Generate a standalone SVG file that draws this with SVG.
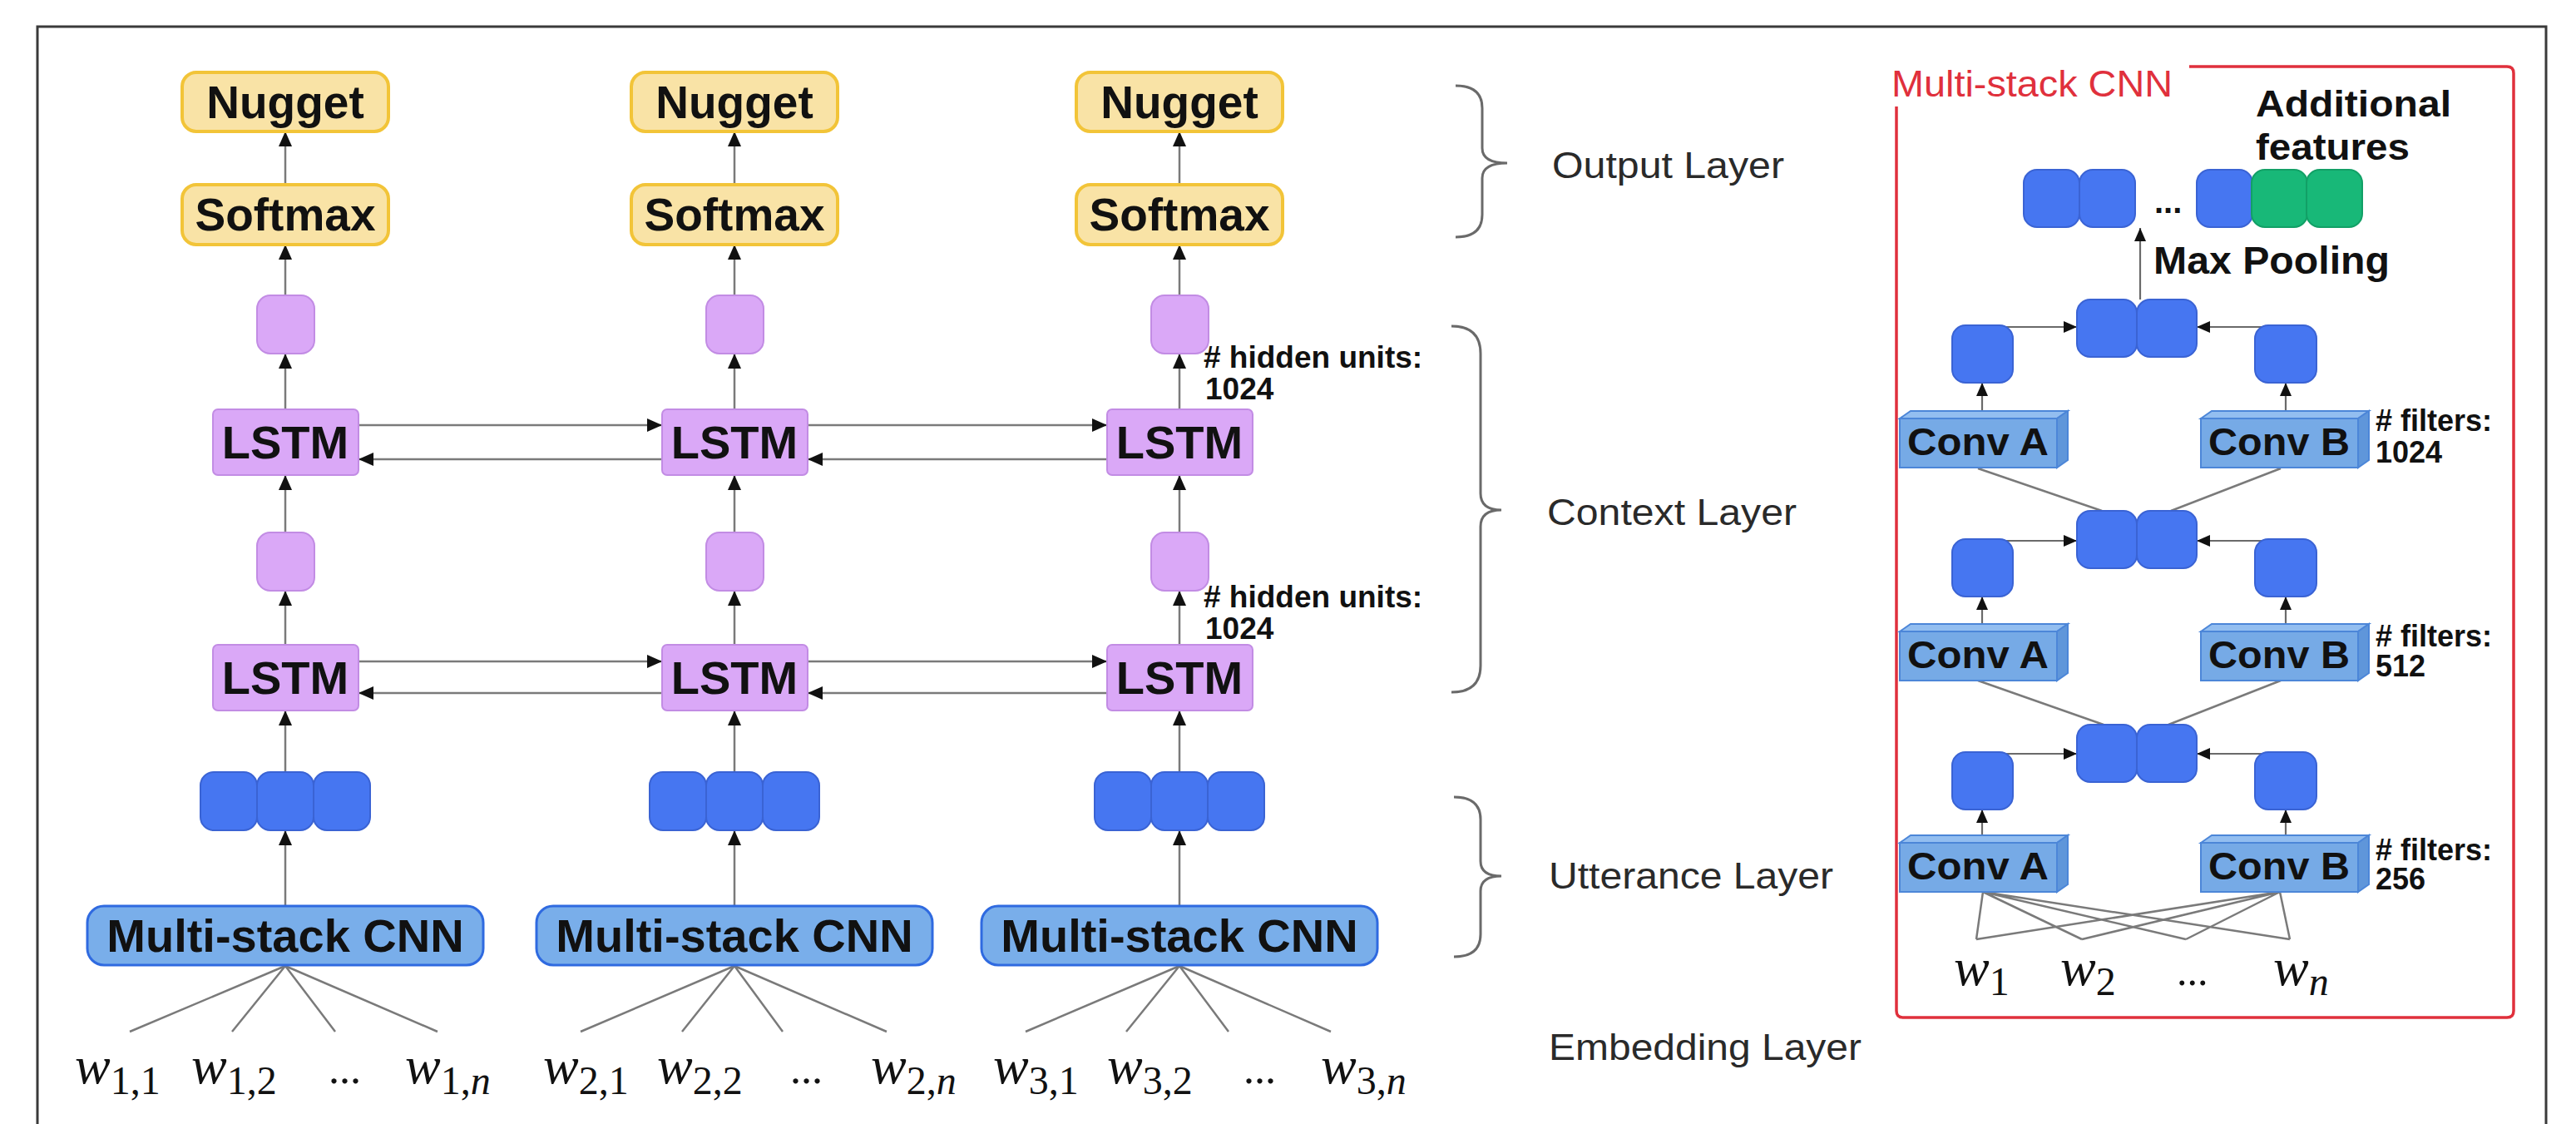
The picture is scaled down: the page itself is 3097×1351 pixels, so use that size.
<svg xmlns="http://www.w3.org/2000/svg" width="3097" height="1351" viewBox="0 0 3097 1351">
<style>
.frame{fill:none;stroke:#3a3a3a;stroke-width:3}
.yel{fill:#F9E3A6;stroke:#F2C438;stroke-width:4}
.pur{fill:#DAA8F7;stroke:#C28CE4;stroke-width:2}
.blu{fill:#4676F1;stroke:#3A63D4;stroke-width:2}
.grn{fill:#18B878;stroke:#12A066;stroke-width:2}
.cnn{fill:#79AEEA;stroke:#2F6AE0;stroke-width:3}
.cf{fill:#76AAE6;stroke:#4C86D8;stroke-width:2}
.ct{fill:#93BEF0;stroke:#4C86D8;stroke-width:2}
.cs{fill:#5F96DA;stroke:#4C86D8;stroke-width:2}
.ln{fill:none;stroke:#7a7a7a;stroke-width:2.5}
.arr{fill:none;stroke:#7a7a7a;stroke-width:2.5;marker-end:url(#ah)}
.arrs{fill:none;stroke:#6a6a6a;stroke-width:2.2;marker-end:url(#ahs)}
.brace{fill:none;stroke:#6a6a6a;stroke-width:3}
.b{font-family:"Liberation Sans",Arial,sans-serif;font-weight:bold;fill:#111}
.lbl{font-family:"Liberation Sans",Arial,sans-serif;fill:#2a2a2a;font-size:44px}
.red{font-family:"Liberation Sans",Arial,sans-serif;fill:#E0303C;font-size:44px}
.w{font-family:"Liberation Serif","Times New Roman",serif;fill:#111}
.wi{font-style:italic;font-size:64px}
.sub{font-size:48px}
.wi2{font-style:italic;font-size:64px}
.sub2{font-size:48px}
</style>
<defs>
<marker id="ah" viewBox="0 0 18 16" refX="18" refY="8" markerWidth="18" markerHeight="16" markerUnits="userSpaceOnUse" orient="auto"><path d="M0,0 L18,8 L0,16 z" fill="#111"/></marker>
<marker id="ahs" viewBox="0 0 16 14" refX="16" refY="7" markerWidth="16" markerHeight="14" markerUnits="userSpaceOnUse" orient="auto"><path d="M0,0 L16,7 L0,14 z" fill="#111"/></marker>
</defs>
<rect width="3097" height="1351" fill="#ffffff"/>
<path class="frame" d="M45 1351 L45 32 L3061 32 L3061 1351"/>

<g id="connectors">
  <!-- column 1 -->
  <line class="arr" x1="343" y1="222" x2="343" y2="158"/>
  <line class="arr" x1="343" y1="355" x2="343" y2="294"/>
  <line class="arr" x1="343" y1="492" x2="343" y2="425"/>
  <line class="arr" x1="343" y1="640" x2="343" y2="571"/>
  <line class="arr" x1="343" y1="775" x2="343" y2="710"/>
  <line class="arr" x1="343" y1="928" x2="343" y2="854"/>
  <line class="arr" x1="343" y1="1089" x2="343" y2="998"/>
  <!-- column 2 -->
  <line class="arr" x1="883" y1="222" x2="883" y2="158"/>
  <line class="arr" x1="883" y1="355" x2="883" y2="294"/>
  <line class="arr" x1="883" y1="492" x2="883" y2="425"/>
  <line class="arr" x1="883" y1="640" x2="883" y2="571"/>
  <line class="arr" x1="883" y1="775" x2="883" y2="710"/>
  <line class="arr" x1="883" y1="928" x2="883" y2="854"/>
  <line class="arr" x1="883" y1="1089" x2="883" y2="998"/>
  <!-- column 3 -->
  <line class="arr" x1="1418" y1="222" x2="1418" y2="158"/>
  <line class="arr" x1="1418" y1="355" x2="1418" y2="294"/>
  <line class="arr" x1="1418" y1="492" x2="1418" y2="425"/>
  <line class="arr" x1="1418" y1="640" x2="1418" y2="571"/>
  <line class="arr" x1="1418" y1="775" x2="1418" y2="710"/>
  <line class="arr" x1="1418" y1="928" x2="1418" y2="854"/>
  <line class="arr" x1="1418" y1="1089" x2="1418" y2="998"/>
  <!-- LSTM recurrent arrows -->
  <line class="arr" x1="431" y1="511" x2="796" y2="511"/>
  <line class="arr" x1="796" y1="552" x2="431" y2="552"/>
  <line class="arr" x1="971" y1="511" x2="1331" y2="511"/>
  <line class="arr" x1="1331" y1="552" x2="971" y2="552"/>
  <line class="arr" x1="431" y1="795" x2="796" y2="795"/>
  <line class="arr" x1="796" y1="833" x2="431" y2="833"/>
  <line class="arr" x1="971" y1="795" x2="1331" y2="795"/>
  <line class="arr" x1="1331" y1="833" x2="971" y2="833"/>
  <!-- embedding fans -->
  <path class="ln" d="M343 1161 L156 1240 M343 1161 L279 1240 M343 1161 L403 1240 M343 1161 L526 1240"/>
  <path class="ln" d="M883 1161 L698 1240 M883 1161 L820 1240 M883 1161 L941 1240 M883 1161 L1066 1240"/>
  <path class="ln" d="M1418 1161 L1233 1240 M1418 1161 L1354 1240 M1418 1161 L1477 1240 M1418 1161 L1600 1240"/>
  <!-- multi-stack CNN panel -->
  <line class="arrs" x1="2573" y1="360" x2="2573" y2="274"/>
  <line class="arrs" x1="2383" y1="393" x2="2497" y2="393"/>
  <line class="arrs" x1="2748" y1="393" x2="2641" y2="393"/>
  <line class="arrs" x1="2383" y1="650" x2="2497" y2="650"/>
  <line class="arrs" x1="2748" y1="650" x2="2641" y2="650"/>
  <line class="arrs" x1="2383" y1="906" x2="2497" y2="906"/>
  <line class="arrs" x1="2748" y1="906" x2="2641" y2="906"/>
  <line class="arrs" x1="2383" y1="494" x2="2383" y2="460"/>
  <line class="arrs" x1="2748" y1="494" x2="2748" y2="460"/>
  <line class="arrs" x1="2383" y1="750" x2="2383" y2="717"/>
  <line class="arrs" x1="2748" y1="750" x2="2748" y2="717"/>
  <line class="arrs" x1="2383" y1="1004" x2="2383" y2="973"/>
  <line class="arrs" x1="2748" y1="1004" x2="2748" y2="973"/>
  <path class="ln" d="M2378 563 L2527 614 M2742 563 L2610 614 M2378 818 L2529 871 M2742 818 L2607 871"/>
  <path class="ln" d="M2384 1072 L2376 1129 M2384 1072 L2503 1129 M2384 1072 L2628 1129 M2384 1072 L2753 1129 M2741 1072 L2376 1129 M2741 1072 L2503 1129 M2741 1072 L2628 1129 M2741 1072 L2753 1129"/>
</g>

<g id="braces">
  <path class="brace" d="M1750 103 Q1782 103 1782 130 L1782 178 Q1782 196 1812 196 Q1782 196 1782 214 L1782 258 Q1782 285 1750 285"/>
  <path class="brace" d="M1745 392 Q1780 392 1780 425 L1780 593 Q1780 613 1805 613 Q1780 613 1780 633 L1780 800 Q1780 832 1745 832"/>
  <path class="brace" d="M1748 958 Q1780 958 1780 985 L1780 1035 Q1780 1053 1805 1053 Q1780 1053 1780 1071 L1780 1123 Q1780 1150 1748 1150"/>
</g>

<g id="col1">
  <g id="nugget1"><rect class="yel" x="219" y="87" width="248" height="71" rx="17"/><text class="b" x="343" y="142" font-size="55" text-anchor="middle">Nugget</text></g>
  <g id="softmax1"><rect class="yel" x="219" y="222" width="248" height="72" rx="17"/><text class="b" x="343" y="277" font-size="55" text-anchor="middle">Softmax</text></g>
  <g id="h1a"><rect class="pur" x="309" y="355" width="69" height="70" rx="16"/></g>
  <g id="lstm1a"><rect class="pur" x="256" y="492" width="175" height="79" rx="6"/><text class="b" x="343" y="551" font-size="56" text-anchor="middle">LSTM</text></g>
  <g id="h1b"><rect class="pur" x="309" y="640" width="69" height="70" rx="16"/></g>
  <g id="lstm1b"><rect class="pur" x="256" y="775" width="175" height="79" rx="6"/><text class="b" x="343" y="834" font-size="56" text-anchor="middle">LSTM</text></g>
  <g id="u1"><rect class="blu" x="241" y="928" width="68" height="70" rx="16"/><rect class="blu" x="309" y="928" width="68" height="70" rx="16"/><rect class="blu" x="377" y="928" width="68" height="70" rx="16"/></g>
  <g id="cnn1"><rect class="cnn" x="105" y="1089" width="476" height="71" rx="20"/><text class="b" x="343" y="1144" font-size="56" text-anchor="middle">Multi-stack CNN</text></g>
</g>

<g id="col2">
  <g id="nugget2"><rect class="yel" x="759" y="87" width="248" height="71" rx="17"/><text class="b" x="883" y="142" font-size="55" text-anchor="middle">Nugget</text></g>
  <g id="softmax2"><rect class="yel" x="759" y="222" width="248" height="72" rx="17"/><text class="b" x="883" y="277" font-size="55" text-anchor="middle">Softmax</text></g>
  <g id="h2a"><rect class="pur" x="849" y="355" width="69" height="70" rx="16"/></g>
  <g id="lstm2a"><rect class="pur" x="796" y="492" width="175" height="79" rx="6"/><text class="b" x="883" y="551" font-size="56" text-anchor="middle">LSTM</text></g>
  <g id="h2b"><rect class="pur" x="849" y="640" width="69" height="70" rx="16"/></g>
  <g id="lstm2b"><rect class="pur" x="796" y="775" width="175" height="79" rx="6"/><text class="b" x="883" y="834" font-size="56" text-anchor="middle">LSTM</text></g>
  <g id="u2"><rect class="blu" x="781" y="928" width="68" height="70" rx="16"/><rect class="blu" x="849" y="928" width="68" height="70" rx="16"/><rect class="blu" x="917" y="928" width="68" height="70" rx="16"/></g>
  <g id="cnn2"><rect class="cnn" x="645" y="1089" width="476" height="71" rx="20"/><text class="b" x="883" y="1144" font-size="56" text-anchor="middle">Multi-stack CNN</text></g>
</g>

<g id="col3">
  <g id="nugget3"><rect class="yel" x="1294" y="87" width="248" height="71" rx="17"/><text class="b" x="1418" y="142" font-size="55" text-anchor="middle">Nugget</text></g>
  <g id="softmax3"><rect class="yel" x="1294" y="222" width="248" height="72" rx="17"/><text class="b" x="1418" y="277" font-size="55" text-anchor="middle">Softmax</text></g>
  <g id="h3a"><rect class="pur" x="1384" y="355" width="69" height="70" rx="16"/></g>
  <g id="lstm3a"><rect class="pur" x="1331" y="492" width="175" height="79" rx="6"/><text class="b" x="1418" y="551" font-size="56" text-anchor="middle">LSTM</text></g>
  <g id="h3b"><rect class="pur" x="1384" y="640" width="69" height="70" rx="16"/></g>
  <g id="lstm3b"><rect class="pur" x="1331" y="775" width="175" height="79" rx="6"/><text class="b" x="1418" y="834" font-size="56" text-anchor="middle">LSTM</text></g>
  <g id="u3"><rect class="blu" x="1316" y="928" width="68" height="70" rx="16"/><rect class="blu" x="1384" y="928" width="68" height="70" rx="16"/><rect class="blu" x="1452" y="928" width="68" height="70" rx="16"/></g>
  <g id="cnn3"><rect class="cnn" x="1180" y="1089" width="476" height="71" rx="20"/><text class="b" x="1418" y="1144" font-size="56" text-anchor="middle">Multi-stack CNN</text></g>
</g>

<g id="hidden-labels">
  <text class="b" x="1447" y="442" font-size="37">
    <tspan x="1447" y="442"># hidden units:</tspan>
    <tspan x="1449" y="480">1024</tspan>
  </text>
  <text class="b" x="1447" y="730" font-size="37">
    <tspan x="1447" y="730"># hidden units:</tspan>
    <tspan x="1449" y="768">1024</tspan>
  </text>
</g>

<g id="words-left">
  <text class="w" x="90" y="1302"><tspan class="wi">w</tspan><tspan class="sub" dy="13">1,1</tspan></text>
  <text class="w" x="230" y="1302"><tspan class="wi">w</tspan><tspan class="sub" dy="13">1,2</tspan></text>
  <text class="w" x="395" y="1302" font-size="52">...</text>
  <text class="w" x="487" y="1302"><tspan class="wi">w</tspan><tspan class="sub" dy="13">1,</tspan><tspan class="sub" font-style="italic">n</tspan></text>
  <text class="w" x="653" y="1302"><tspan class="wi">w</tspan><tspan class="sub" dy="13">2,1</tspan></text>
  <text class="w" x="790" y="1302"><tspan class="wi">w</tspan><tspan class="sub" dy="13">2,2</tspan></text>
  <text class="w" x="950" y="1302" font-size="52">...</text>
  <text class="w" x="1047" y="1302"><tspan class="wi">w</tspan><tspan class="sub" dy="13">2,</tspan><tspan class="sub" font-style="italic">n</tspan></text>
  <text class="w" x="1194" y="1302"><tspan class="wi">w</tspan><tspan class="sub" dy="13">3,1</tspan></text>
  <text class="w" x="1331" y="1302"><tspan class="wi">w</tspan><tspan class="sub" dy="13">3,2</tspan></text>
  <text class="w" x="1495" y="1302" font-size="52">...</text>
  <text class="w" x="1588" y="1302"><tspan class="wi">w</tspan><tspan class="sub" dy="13">3,</tspan><tspan class="sub" font-style="italic">n</tspan></text>
</g>

<g id="layer-labels">
  <text class="lbl" x="1866" y="214" textLength="279" lengthAdjust="spacingAndGlyphs">Output Layer</text>
  <text class="lbl" x="1860" y="631" textLength="300" lengthAdjust="spacingAndGlyphs">Context Layer</text>
  <text class="lbl" x="1862" y="1068" textLength="342" lengthAdjust="spacingAndGlyphs">Utterance Layer</text>
  <text class="lbl" x="1862" y="1274" textLength="376" lengthAdjust="spacingAndGlyphs">Embedding Layer</text>
</g>

<g id="multistack-panel">
  <path d="M2280 128 L2280 1215 Q2280 1223 2288 1223 L3014 1223 Q3022 1223 3022 1215 L3022 88 Q3022 80 3014 80 L2632 80" fill="none" stroke="#E0303C" stroke-width="3.5"/>
  <text class="red" x="2274" y="116" textLength="338" lengthAdjust="spacingAndGlyphs">Multi-stack CNN</text>

  <g id="features">
    <rect class="blu" x="2433" y="204" width="67" height="69" rx="16"/>
    <rect class="blu" x="2500" y="204" width="67" height="69" rx="16"/>
    <text class="b" x="2590" y="256" font-size="40">...</text>
    <rect class="blu" x="2641" y="204" width="67" height="69" rx="16"/>
    <rect class="grn" x="2707" y="204" width="67" height="69" rx="16"/>
    <rect class="grn" x="2773" y="204" width="67" height="69" rx="16"/>
  </g>
  <text class="b" font-size="44" x="2712" y="140" textLength="235" lengthAdjust="spacingAndGlyphs">Additional</text>
  <text class="b" font-size="44" x="2712" y="192" textLength="185" lengthAdjust="spacingAndGlyphs">features</text>
  <text class="b" font-size="46" x="2589" y="329" textLength="284" lengthAdjust="spacingAndGlyphs">Max Pooling</text>

  <g id="pool1"><rect class="blu" x="2497" y="360" width="72" height="69" rx="16"/><rect class="blu" x="2569" y="360" width="72" height="69" rx="16"/></g>
  <g id="a1"><rect class="blu" x="2347" y="391" width="73" height="69" rx="16"/></g>
  <g id="b1"><rect class="blu" x="2711" y="391" width="74" height="69" rx="16"/></g>
  <g id="convA1">
    <path class="ct" d="M2284 503 L2297 494 L2486 494 L2473 503 Z"/>
    <path class="cs" d="M2473 503 L2486 494 L2486 553 L2473 562 Z"/>
    <rect class="cf" x="2284" y="503" width="189" height="59"/>
    <text class="b" x="2378" y="547" font-size="46" text-anchor="middle" textLength="170" lengthAdjust="spacingAndGlyphs">Conv A</text>
  </g>
  <g id="convB1">
    <path class="ct" d="M2646 503 L2659 494 L2848 494 L2835 503 Z"/>
    <path class="cs" d="M2835 503 L2848 494 L2848 553 L2835 562 Z"/>
    <rect class="cf" x="2646" y="503" width="189" height="59"/>
    <text class="b" x="2740" y="547" font-size="46" text-anchor="middle" textLength="170" lengthAdjust="spacingAndGlyphs">Conv B</text>
  </g>
  <text class="b" font-size="36"><tspan x="2856" y="518"># filters:</tspan><tspan x="2856" y="556">1024</tspan></text>

  <g id="pool2"><rect class="blu" x="2497" y="614" width="72" height="69" rx="16"/><rect class="blu" x="2569" y="614" width="72" height="69" rx="16"/></g>
  <g id="a2"><rect class="blu" x="2347" y="648" width="73" height="69" rx="16"/></g>
  <g id="b2"><rect class="blu" x="2711" y="648" width="74" height="69" rx="16"/></g>
  <g id="convA2">
    <path class="ct" d="M2284 759 L2297 750 L2486 750 L2473 759 Z"/>
    <path class="cs" d="M2473 759 L2486 750 L2486 809 L2473 818 Z"/>
    <rect class="cf" x="2284" y="759" width="189" height="59"/>
    <text class="b" x="2378" y="803" font-size="46" text-anchor="middle" textLength="170" lengthAdjust="spacingAndGlyphs">Conv A</text>
  </g>
  <g id="convB2">
    <path class="ct" d="M2646 759 L2659 750 L2848 750 L2835 759 Z"/>
    <path class="cs" d="M2835 759 L2848 750 L2848 809 L2835 818 Z"/>
    <rect class="cf" x="2646" y="759" width="189" height="59"/>
    <text class="b" x="2740" y="803" font-size="46" text-anchor="middle" textLength="170" lengthAdjust="spacingAndGlyphs">Conv B</text>
  </g>
  <text class="b" font-size="36"><tspan x="2856" y="777"># filters:</tspan><tspan x="2856" y="813">512</tspan></text>

  <g id="pool3"><rect class="blu" x="2497" y="871" width="72" height="69" rx="16"/><rect class="blu" x="2569" y="871" width="72" height="69" rx="16"/></g>
  <g id="a3"><rect class="blu" x="2347" y="904" width="73" height="69" rx="16"/></g>
  <g id="b3"><rect class="blu" x="2711" y="904" width="74" height="69" rx="16"/></g>
  <g id="convA3">
    <path class="ct" d="M2284 1013 L2297 1004 L2486 1004 L2473 1013 Z"/>
    <path class="cs" d="M2473 1013 L2486 1004 L2486 1063 L2473 1072 Z"/>
    <rect class="cf" x="2284" y="1013" width="189" height="59"/>
    <text class="b" x="2378" y="1057" font-size="46" text-anchor="middle" textLength="170" lengthAdjust="spacingAndGlyphs">Conv A</text>
  </g>
  <g id="convB3">
    <path class="ct" d="M2646 1013 L2659 1004 L2848 1004 L2835 1013 Z"/>
    <path class="cs" d="M2835 1013 L2848 1004 L2848 1063 L2835 1072 Z"/>
    <rect class="cf" x="2646" y="1013" width="189" height="59"/>
    <text class="b" x="2740" y="1057" font-size="46" text-anchor="middle" textLength="170" lengthAdjust="spacingAndGlyphs">Conv B</text>
  </g>
  <text class="b" font-size="36"><tspan x="2856" y="1034"># filters:</tspan><tspan x="2856" y="1069">256</tspan></text>

  <g id="words-right">
    <text class="w" x="2349" y="1184"><tspan class="wi2">w</tspan><tspan class="sub2" dy="12">1</tspan></text>
    <text class="w" x="2477" y="1184"><tspan class="wi2">w</tspan><tspan class="sub2" dy="12">2</tspan></text>
    <text class="w" x="2617" y="1184" font-size="50">...</text>
    <text class="w" x="2733" y="1184"><tspan class="wi2">w</tspan><tspan class="sub2" dy="12" font-style="italic">n</tspan></text>
  </g>
</g>
</svg>
